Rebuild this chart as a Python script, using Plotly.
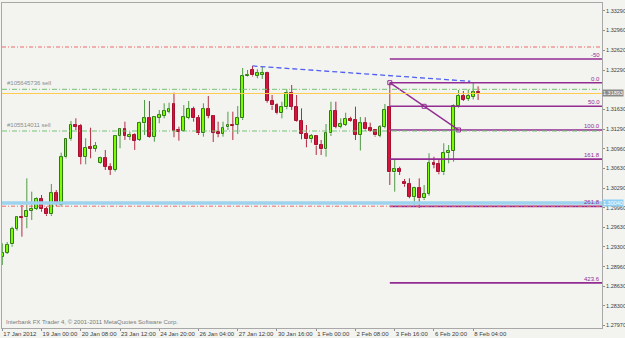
import plotly.graph_objects as go

# ---------------- data (H4 bars) ----------------
OPEN = [1.29130, 1.29198, 1.29340, 1.29599, 1.29802, 1.29797, 1.29909, 1.29943, 1.30112, 1.29943,
        1.29848, 1.30203, 1.30005, 1.30813, 1.31118, 1.31360, 1.31343, 1.30823, 1.30982, 1.30953,
        1.30711, 1.30796, 1.30654, 1.30598, 1.31174, 1.31287, 1.31162, 1.31190, 1.31106, 1.31389,
        1.31473, 1.31162, 1.31483, 1.31517, 1.31585, 1.31715, 1.31275, 1.31263, 1.31483, 1.31636,
        1.31473, 1.31219, 1.31626, 1.31512, 1.31236, 1.31207, 1.31321, 1.31360, 1.31360, 1.31473,
        1.32181, 1.32291, 1.32194, 1.32211, 1.32235, 1.31771, 1.31690, 1.31558, 1.31660, 1.31896,
        1.31670, 1.31433, 1.31207, 1.31118, 1.31174, 1.31021, 1.30948, 1.31219, 1.31602, 1.31331,
        1.31360, 1.31461, 1.31444, 1.31190, 1.31389, 1.31304, 1.31275, 1.31174, 1.31331, 1.31664,
        1.30559, 1.30615, 1.30400, 1.30356, 1.30146, 1.30298, 1.30119, 1.30192, 1.30722, 1.30694,
        1.30559, 1.30881, 1.30920, 1.31687, 1.31856, 1.31800, 1.31839, 1.31913]
HIGH = [1.29357, 1.29379, 1.29638, 1.29819, 1.30005, 1.30457, 1.30231, 1.30136, 1.30175, 1.29977,
        1.30361, 1.30259, 1.30891, 1.31135, 1.31428, 1.31473, 1.31377, 1.31135, 1.31314, 1.31072,
        1.30823, 1.30937, 1.30711, 1.31190, 1.31304, 1.31416, 1.31246, 1.31219, 1.31416, 1.31783,
        1.31766, 1.31512, 1.31614, 1.31727, 1.31737, 1.31907, 1.31331, 1.31698, 1.31766, 1.31670,
        1.31529, 1.31727, 1.31851, 1.31529, 1.31416, 1.31416, 1.31585, 1.31585, 1.31681, 1.32325,
        1.32291, 1.32359, 1.32303, 1.32342, 1.32262, 1.31868, 1.31727, 1.31754, 1.31964, 1.32037,
        1.31868, 1.31642, 1.31360, 1.31207, 1.31190, 1.31106, 1.31377, 1.31754, 1.31754, 1.31473,
        1.31568, 1.31500, 1.31670, 1.31495, 1.31490, 1.31399, 1.31292, 1.31360, 1.31715, 1.32076,
        1.30767, 1.30654, 1.30446, 1.30457, 1.30315, 1.30457, 1.30344, 1.30881, 1.30823, 1.30767,
        1.31050, 1.31021, 1.31710, 1.31952, 1.31935, 1.31961, 1.32079, 1.32015]
LOW = [1.28990, 1.29176, 1.29299, 1.29570, 1.29469, 1.29611, 1.29751, 1.29921, 1.29892, 1.29819,
       1.29819, 1.29988, 1.29977, 1.30796, 1.31094, 1.31275, 1.30694, 1.30694, 1.30796, 1.30908,
       1.30700, 1.30598, 1.30513, 1.30569, 1.30965, 1.31106, 1.31106, 1.30937, 1.31089, 1.31190,
       1.31145, 1.31077, 1.31389, 1.31473, 1.31558, 1.31152, 1.31094, 1.31246, 1.31456, 1.31416,
       1.31190, 1.31162, 1.31473, 1.31072, 1.31152, 1.31162, 1.31275, 1.31106, 1.31207, 1.31444,
       1.32172, 1.32181, 1.32150, 1.32139, 1.31737, 1.31614, 1.31541, 1.31473, 1.31626, 1.31614,
       1.31416, 1.31118, 1.30982, 1.31060, 1.30852, 1.30852, 1.30823, 1.31174, 1.31304, 1.31304,
       1.31343, 1.31416, 1.31106, 1.30928, 1.31263, 1.31246, 1.31162, 1.31152, 1.31304, 1.30344,
       1.30231, 1.30513, 1.30315, 1.30119, 1.30005, 1.29955, 1.30090, 1.30163, 1.30627, 1.30525,
       1.30513, 1.30711, 1.30738, 1.31653, 1.31766, 1.31766, 1.31791, 1.31783]
CLOSE = [1.29198, 1.29333, 1.29599, 1.29797, 1.29790, 1.29909, 1.29943, 1.30112, 1.29933, 1.29848,
         1.30203, 1.30044, 1.30813, 1.31118, 1.31360, 1.31331, 1.30823, 1.30975, 1.30953, 1.31004,
         1.30796, 1.30654, 1.30598, 1.31174, 1.31287, 1.31174, 1.31196, 1.31094, 1.31399, 1.31473,
         1.31162, 1.31490, 1.31529, 1.31597, 1.31631, 1.31263, 1.31246, 1.31490, 1.31636, 1.31473,
         1.31219, 1.31631, 1.31512, 1.31229, 1.31207, 1.31314, 1.31360, 1.31348, 1.31473, 1.32181,
         1.32206, 1.32198, 1.32235, 1.32245, 1.31774, 1.31690, 1.31558, 1.31656, 1.31896, 1.31670,
         1.31433, 1.31207, 1.31118, 1.31174, 1.31013, 1.30948, 1.31219, 1.31602, 1.31326, 1.31372,
         1.31461, 1.31433, 1.31190, 1.31389, 1.31284, 1.31263, 1.31182, 1.31331, 1.31614, 1.30559,
         1.30615, 1.30569, 1.30356, 1.30146, 1.30298, 1.30119, 1.30192, 1.30722, 1.30683, 1.30559,
         1.30881, 1.30920, 1.31687, 1.31859, 1.31783, 1.31856, 1.31913, 1.31893]

TIME_TICK_BARS = [0, 8, 16, 24, 32, 40, 48, 56, 64, 72, 80, 88, 96]
TIME_TICK_TEXT = ["17 Jan 2012", "19 Jan 00:00", "20 Jan 08:00", "23 Jan 12:00", "24 Jan 20:00",
                  "26 Jan 04:00", "27 Jan 12:00", "30 Jan 16:00", "1 Feb 00:00", "2 Feb 08:00",
                  "3 Feb 16:00", "6 Feb 20:00", "8 Feb 04:00"]
PRICE_TICKS = [1.33290, 1.32960, 1.32620, 1.32290, 1.31630, 1.31290, 1.30960, 1.30630,
               1.30290, 1.29960, 1.29630, 1.29300, 1.28960, 1.28630, 1.28300, 1.27970]

RED_LEVELS = [1.32680, 1.29985]
ORDER_LEVELS = [1.31964, 1.31258]
ORDER_LABELS = ["#105645736 sell", "#105514011 sell"]
BLUE_LEVEL = 1.30040
BID = CLOSE[-1]

FIB_BARS = [79, 93]
FIB_PRICES = [1.32076, 1.31276]
FIB_RATIOS = [-0.5, 0.0, 0.5, 1.0, 1.618, 2.618, 4.236]
FIB_LABELS = ["-50", "0.0", "50.0", "100.0", "161.8", "261.8", "423.6"]

TREND_BARS = [51, 95.4]
TREND_PRICES = [1.32359, 1.32100]

X_RANGE = [-0.06, 122.26]
Y_RANGE = [1.27923, 1.33425]

# ---------------- styles ----------------
BG = "#f3f4f0"
UP_FILL, UP_LINE, UP_WICK = "#7cfc00", "#2f7a10", "#4f9a45"
DN_FILL, DN_LINE, DN_WICK = "#d3143c", "#a50e2c", "#b22a40"
FIB_COL = "#922c92"
FONT = "Liberation Sans"

idx = list(range(len(OPEN)))
up = [c >= o for o, c in zip(OPEN, CLOSE)]

fig = go.Figure()

# wicks (split above/below the body)
for is_up, col in ((True, UP_WICK), (False, DN_WICK)):
    xs, ys = [], []
    for i in idx:
        if up[i] != is_up:
            continue
        top = max(OPEN[i], CLOSE[i]); bot = min(OPEN[i], CLOSE[i])
        xs += [i, i, None, i, i, None]
        ys += [HIGH[i], top, None, bot, LOW[i], None]
    fig.add_trace(go.Scatter(x=xs, y=ys, mode="lines", line=dict(color=col, width=1),
                             hoverinfo="skip", showlegend=False))

# bodies
fig.add_trace(go.Bar(
    x=idx,
    y=[abs(c - o) for o, c in zip(OPEN, CLOSE)],
    base=[min(o, c) for o, c in zip(OPEN, CLOSE)],
    width=0.58,
    marker=dict(color=[UP_FILL if u else DN_FILL for u in up],
                line=dict(color=[UP_LINE if u else DN_LINE for u in up], width=1)),
    hoverinfo="skip", showlegend=False))

# fibonacci levels
rng = FIB_PRICES[0] - FIB_PRICES[1]
fib_levels = [FIB_PRICES[0] - r * rng for r in FIB_RATIOS]
fx, fy = [], []
for lv in fib_levels:
    fx += [FIB_BARS[0], X_RANGE[1], None]
    fy += [lv, lv, None]
fig.add_trace(go.Scatter(x=fx, y=fy, mode="lines", line=dict(color=FIB_COL, width=1.6),
                         hoverinfo="skip", showlegend=False))
# fibonacci trend line with handles
fig.add_trace(go.Scatter(x=[FIB_BARS[0], FIB_BARS[1]], y=FIB_PRICES, mode="lines",
                         line=dict(color=FIB_COL, width=1.4), hoverinfo="skip", showlegend=False))
fig.add_trace(go.Scatter(x=[FIB_BARS[0], (FIB_BARS[0] + FIB_BARS[1]) / 2, FIB_BARS[1]],
                         y=[FIB_PRICES[0], (FIB_PRICES[0] + FIB_PRICES[1]) / 2, FIB_PRICES[1]],
                         mode="markers",
                         marker=dict(symbol="square-open", size=4, color=FIB_COL, line=dict(width=1)),
                         hoverinfo="skip", showlegend=False))

# blue trend line
fig.add_trace(go.Scatter(x=TREND_BARS, y=TREND_PRICES, mode="lines",
                         line=dict(color="#4f5ff0", width=1.3, dash="5px,3px"),
                         hoverinfo="skip", showlegend=False))

shapes = []
for lv in RED_LEVELS:
    shapes.append(dict(type="line", xref="paper", x0=0, x1=1, y0=lv, y1=lv,
                       line=dict(color="#ee6a6a", width=1, dash="4px,2px,1px,2px")))
for lv in ORDER_LEVELS:
    shapes.append(dict(type="line", xref="paper", x0=0, x1=1, y0=lv, y1=lv,
                       line=dict(color="#72c472", width=1, dash="5px,2px,1px,2px")))
shapes.append(dict(type="line", xref="paper", x0=0, x1=1, y0=BID, y1=BID,
                   line=dict(color="#ffcc4d", width=1)))
shapes.append(dict(type="line", xref="paper", x0=0, x1=1, y0=BLUE_LEVEL, y1=BLUE_LEVEL,
                   line=dict(color="#9dd3ee", width=3.5)))

ann = []
for lv, txt in zip(fib_levels, FIB_LABELS):
    ann.append(dict(x=X_RANGE[1], y=lv, xref="x", yref="y", text=txt, showarrow=False,
                    xanchor="right", yanchor="bottom", yshift=-1,
                    font=dict(family=FONT, size=6, color=FIB_COL)))
for lv, txt in zip(ORDER_LEVELS, ORDER_LABELS):
    ann.append(dict(x=0.005, y=lv, xref="paper", yref="y", text=txt, showarrow=False,
                    xanchor="left", yanchor="bottom", yshift=1,
                    font=dict(family=FONT, size=6, color="#8c8c8c")))
ann.append(dict(x=0.003, y=0, xref="paper", yref="paper",
                text="Interbank FX Trader 4, \u00a9 2001-2011 MetaQuotes Software Corp.",
                showarrow=False, xanchor="left", yanchor="bottom", yshift=1,
                font=dict(family=FONT, size=6, color="#7a7a7a")))
# price boxes on the axis
ann.append(dict(x=1, y=BID, xref="paper", yref="y", text=f"{BID:.5f}", showarrow=False,
                xanchor="left", yanchor="middle", xshift=0, bgcolor="#8a8a8a", borderpad=0,
                font=dict(family=FONT, size=5.5, color="#ffffff")))
ann.append(dict(x=1, y=BLUE_LEVEL, xref="paper", yref="y", text=f"{BLUE_LEVEL:.5f}", showarrow=False,
                xanchor="left", yanchor="middle", xshift=0, bgcolor="#8fd0f5", borderpad=0,
                font=dict(family=FONT, size=5.5, color="#ffffff")))

fig.update_layout(
    width=625, height=338,
    margin=dict(l=2, r=23, t=3, b=10, pad=0),
    paper_bgcolor=BG, plot_bgcolor=BG,
    showlegend=False, hovermode=False,
    shapes=shapes, annotations=ann,
    xaxis=dict(range=X_RANGE, tickvals=TIME_TICK_BARS, ticktext=TIME_TICK_TEXT,
               ticks="outside", ticklen=2, tickcolor="#909090", tickangle=0,
               ticklabelposition="outside right",
               tickfont=dict(family=FONT, size=6, color="#404040"),
               showgrid=False, zeroline=False, showline=True, mirror=True,
               linecolor="#a8a8a8", linewidth=1, automargin=False, fixedrange=True),
    yaxis=dict(range=Y_RANGE, side="right", tickvals=PRICE_TICKS,
               ticktext=[f"{v:.5f}" for v in PRICE_TICKS],
               ticks="outside", ticklen=2, tickcolor="#909090",
               tickfont=dict(family=FONT, size=5.5, color="#404040"),
               showgrid=False, zeroline=False, showline=True, mirror=True,
               linecolor="#a8a8a8", linewidth=1, automargin=False, fixedrange=True),
    bargap=0,
)

fig.write_html("out.html")
